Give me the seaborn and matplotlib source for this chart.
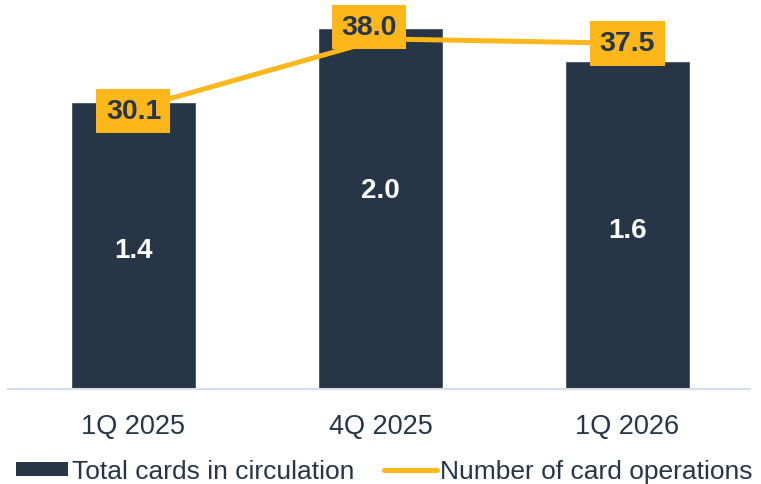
import numpy as np
import pandas as pd
import matplotlib
matplotlib.use("Agg")
import matplotlib.pyplot as plt
import seaborn as sns
from matplotlib.patches import Patch
from matplotlib.lines import Line2D

# data
quarters = ["1Q 2025", "4Q 2025", "1Q 2026"]
cards_height = [1.59, 2.0, 1.82]      # bar heights as drawn
cards_label = [1.4, 2.0, 1.6]          # printed values
operations = [30.1, 38.0, 37.5]

navy = "#263646"
gold = "#FDB71A"

sns.set_style("white")
plt.rcParams["font.family"] = ["Liberation Sans", "DejaVu Sans"]

fig = plt.figure(figsize=(7.61, 4.85), dpi=100)
ax = fig.add_axes([8 / 761, 95 / 485, 742 / 761, 390 / 485])

df = pd.DataFrame({"quarter": quarters, "cards": cards_height})
sns.barplot(data=df, x="quarter", y="cards", color=navy, saturation=1,
            width=0.506, ax=ax)
ax.set_xlim(-0.508, 2.496)
ax.set_ylim(0, 2.161)

# white value labels inside the bars
for i, v in enumerate(cards_label):
    ax.text(i, v * 0.55, f"{v:.1f}", ha="center", va="center",
            color="white", fontsize=20, fontweight="bold")

ax2 = ax.twinx()
xs = np.arange(len(quarters))
sns.lineplot(x=xs, y=operations, color=gold, linewidth=3.6, ax=ax2,
             solid_capstyle="butt")
ax2.set_ylim(-1.5, 42.5)

offsets = [(0, -1.5), (-8.5, 8.5), (0, 0)]
for i, v in enumerate(operations):
    ax2.annotate(f"{v:.1f}", (xs[i], v), xytext=offsets[i],
                 textcoords="offset points", ha="center", va="center",
                 fontsize=20.5, fontweight="bold", color=navy, zorder=10,
                 bbox=dict(boxstyle="square,pad=0.33", fc=gold, ec="none"))

for a in (ax, ax2):
    for s in ("top", "left", "right"):
        a.spines[s].set_visible(False)
    a.set_yticks([])
    a.set_ylabel("")
ax2.spines["bottom"].set_visible(False)
ax.spines["bottom"].set_color("#D5DEE8")
ax.spines["bottom"].set_linewidth(1.5)
ax.set_xlabel("")
ax.tick_params(axis="x", length=0, pad=17, labelsize=19.5, labelcolor=navy)

handles = [Patch(facecolor=navy, edgecolor="none"),
           Line2D([0], [0], color=gold, linewidth=3.6)]
fig.legend(handles, ["Total cards in circulation", "Number of card operations"],
           loc="center", bbox_to_anchor=(0.505, 0.026), ncol=2, frameon=False,
           fontsize=19, labelcolor=navy, handlelength=2.0, handleheight=0.45,
           handletextpad=0.15, columnspacing=1.1, borderpad=0, borderaxespad=0)

fig.savefig("out.png", dpi=100)
